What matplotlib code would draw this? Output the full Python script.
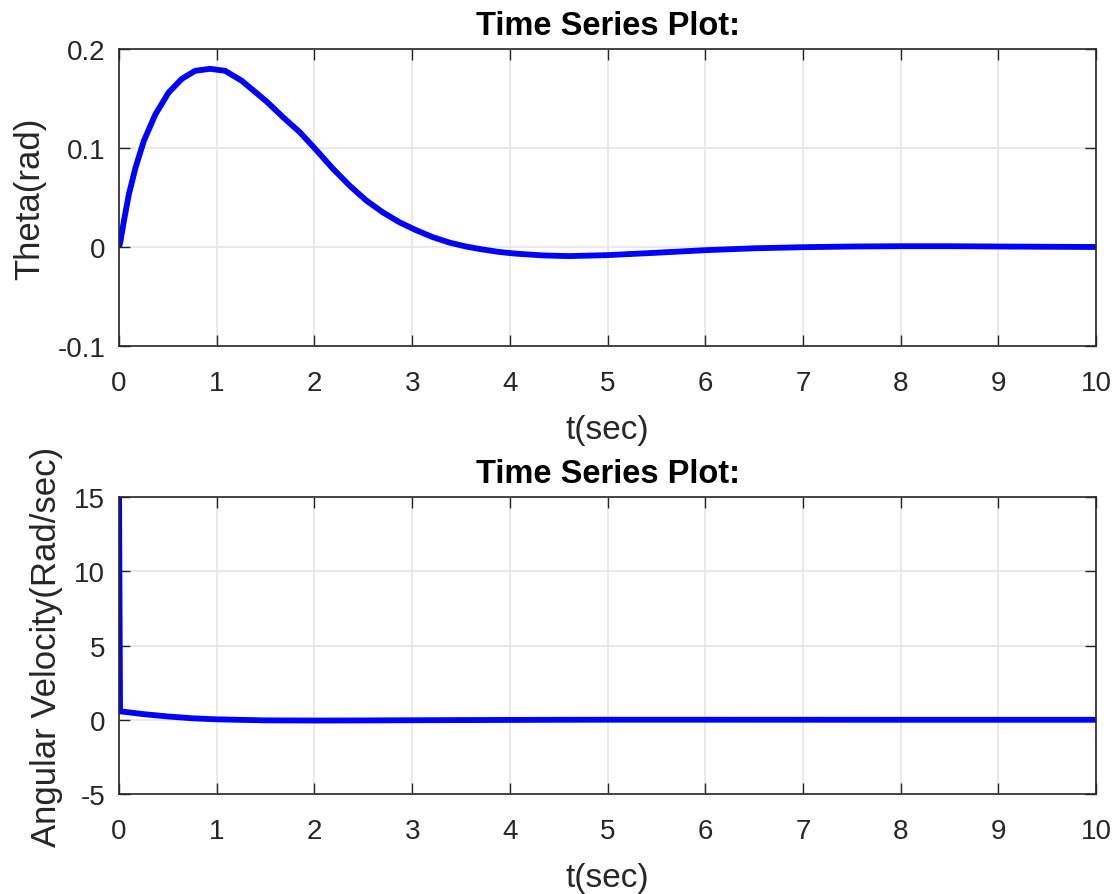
import numpy as np
import matplotlib.pyplot as plt

plt.rcParams['font.family'] = ['Liberation Sans', 'DejaVu Sans']

# sampled response of the pendulum
t_theta = [0, 0.015, 0.049, 0.10, 0.168, 0.253, 0.372, 0.507, 0.644, 0.779,
           0.932, 1.085, 1.255, 1.34, 1.51, 1.68, 1.85, 2.0, 2.19, 2.36, 2.53,
           2.70, 2.87, 3.04, 3.21, 3.38, 3.55, 3.72, 3.89, 4.06, 4.34, 4.6, 5.0,
           5.5, 6.0, 6.5, 7.0, 7.5, 8.0, 8.5, 9.0, 10.0]
theta = [0.0, 0.006, 0.026, 0.053, 0.080, 0.107, 0.134, 0.156, 0.170, 0.178,
         0.180, 0.178, 0.168, 0.161, 0.147, 0.131, 0.116, 0.100, 0.079, 0.062,
         0.047, 0.035, 0.025, 0.017, 0.010, 0.0045, 0.0005, -0.0025, -0.005,
         -0.0067, -0.0085, -0.0092, -0.0082, -0.0058, -0.0032, -0.0013, -0.0002,
         0.0005, 0.0008, 0.0008, 0.0005, 0.0]

t_omega = [0, 0.01, 0.1, 0.25, 0.49, 0.75, 1.0, 1.5, 2.0, 2.5, 3.0, 3.5, 4.0,
           4.5, 5.0, 6.0, 7.0, 8.0, 10.0]
omega = [15.0, 0.57, 0.5, 0.38, 0.23, 0.1, 0.03, -0.04, -0.05, -0.045, -0.03,
         -0.02, -0.01, 0.0, 0.005, 0.005, 0.003, 0.0, 0.0]

xticks = list(range(0, 11))

fig = plt.figure(figsize=(11.2, 8.95), dpi=100)
ax1 = fig.add_axes([0.1063, 0.6123, 0.8723, 0.3318])
ax2 = fig.add_axes([0.1063, 0.1117, 0.8723, 0.3318])


def style(ax, ylim, yticks, ylabels, ylabel):
    ax.set_xlim(0, 10)
    ax.set_ylim(*ylim)
    ax.set_xticks(xticks)
    ax.set_yticks(yticks)
    ax.set_yticklabels(ylabels)
    ax.grid(True, color='#e6e6e6', linewidth=1.2)
    ax.set_axisbelow(True)
    ax.tick_params(direction='in', length=8, width=1, top=True, right=True,
                   labelsize=20, colors='#262626')
    ax.tick_params(axis='x', pad=17)
    ax.tick_params(axis='y', pad=10)
    for s in ax.spines.values():
        s.set_color('#262626')
        s.set_linewidth(1.2)
    ax.set_title('Time Series Plot:', fontsize=23.5, fontweight='bold', pad=11)
    ax.set_xlabel('t(sec)', fontsize=24, color='#262626', labelpad=13)
    ax.set_ylabel(ylabel, fontsize=25, color='#262626', labelpad=8)


ax1.plot(t_theta, theta, color='#0000ff', linewidth=4.2, solid_capstyle='butt',
         solid_joinstyle='round')
style(ax1, (-0.1, 0.2), [-0.1, 0, 0.1, 0.2], ['-0.1', '0', '0.1', '0.2'], 'Theta(rad)')

ax2.plot(t_omega, omega, color='#0000ff', linewidth=4.2, solid_capstyle='butt',
         solid_joinstyle='round')
style(ax2, (-5, 15), [-5, 0, 5, 10, 15], ['-5', '0', '5', '10', '15'],
      'Angular Velocity(Rad/sec)')

fig.savefig('out.png', dpi=100)
